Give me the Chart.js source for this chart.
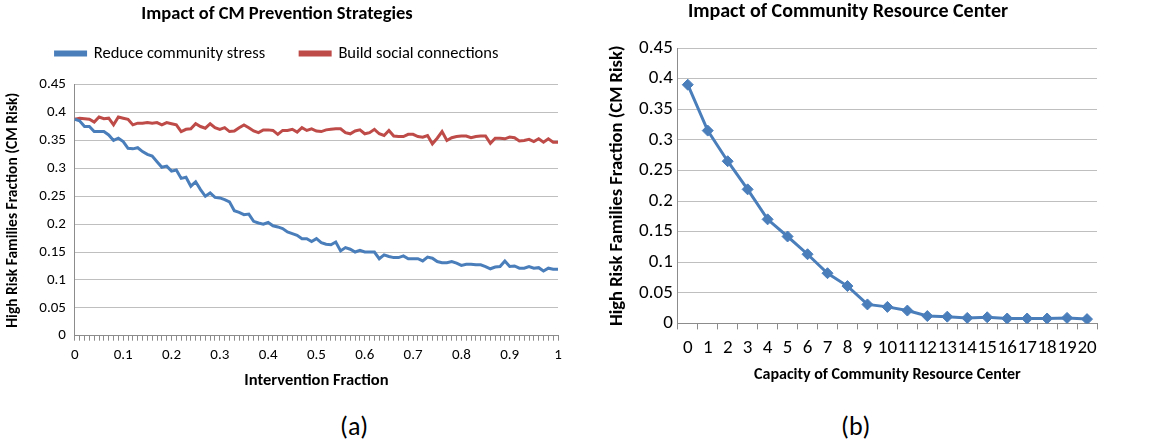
<!DOCTYPE html>
<html>
<head>
<meta charset="utf-8">
<script src="https://cdn.jsdelivr.net/npm/chart.js@4.4.1/dist/chart.umd.min.js"></script>
<style>
  html, body { margin: 0; padding: 0; background: #fff; width: 1159px; height: 445px; overflow: hidden; }
  #wrapA { position: absolute; left: 0; top: 0; width: 580px; height: 391px; }
  #wrapB { position: absolute; left: 580px; top: 0; width: 579px; height: 385px; }
  .cap { position: absolute; top: 410px; font-family: Carlito, Lato, sans-serif; font-size: 26px; color: #000; }
  #capA { left: 340px; }
  #capB { left: 841px; }
</style>
</head>
<body>
<div id="wrapA"><canvas id="chartA" width="580" height="391"></canvas></div>
<div id="wrapB"><canvas id="chartB" width="579" height="385"></canvas></div>
<div class="cap" id="capA">(a)</div>
<div class="cap" id="capB">(b)</div>
<script>
// ---------- Data: chart (a) ----------
const fractionCategories = [
  '0','0.01','0.02','0.03','0.04','0.05','0.06','0.07','0.08','0.09',
  '0.1','0.11','0.12','0.13','0.14','0.15','0.16','0.17','0.18','0.19',
  '0.2','0.21','0.22','0.23','0.24','0.25','0.26','0.27','0.28','0.29',
  '0.3','0.31','0.32','0.33','0.34','0.35','0.36','0.37','0.38','0.39',
  '0.4','0.41','0.42','0.43','0.44','0.45','0.46','0.47','0.48','0.49',
  '0.5','0.51','0.52','0.53','0.54','0.55','0.56','0.57','0.58','0.59',
  '0.6','0.61','0.62','0.63','0.64','0.65','0.66','0.67','0.68','0.69',
  '0.7','0.71','0.72','0.73','0.74','0.75','0.76','0.77','0.78','0.79',
  '0.8','0.81','0.82','0.83','0.84','0.85','0.86','0.87','0.88','0.89',
  '0.9','0.91','0.92','0.93','0.94','0.95','0.96','0.97','0.98','0.99','1'
];
const fractionTickLabels = ['0','0.1','0.2','0.3','0.4','0.5','0.6','0.7','0.8','0.9','1'];
const reduceStress = [
  0.388,0.385,0.375,0.375,0.366,0.366,0.366,0.360,0.350,0.354,
  0.348,0.336,0.335,0.337,0.330,0.325,0.322,0.312,0.302,0.304,
  0.295,0.297,0.282,0.284,0.268,0.276,0.262,0.250,0.256,0.248,
  0.247,0.244,0.240,0.224,0.221,0.217,0.218,0.205,0.202,0.200,
  0.203,0.197,0.195,0.192,0.186,0.183,0.180,0.174,0.174,0.169,
  0.174,0.167,0.164,0.163,0.168,0.152,0.158,0.155,0.150,0.153,
  0.150,0.150,0.150,0.138,0.145,0.142,0.140,0.140,0.143,0.138,
  0.138,0.138,0.134,0.141,0.139,0.133,0.131,0.131,0.133,0.130,
  0.126,0.128,0.128,0.127,0.127,0.124,0.120,0.123,0.124,0.134,
  0.124,0.125,0.121,0.121,0.124,0.121,0.122,0.116,0.121,0.119,0.119
];
const buildConnections = [
  0.388,0.390,0.389,0.388,0.383,0.392,0.389,0.390,0.378,0.392,
  0.390,0.388,0.378,0.381,0.381,0.382,0.381,0.382,0.378,0.382,
  0.380,0.378,0.366,0.370,0.371,0.380,0.375,0.372,0.380,0.373,
  0.370,0.373,0.366,0.367,0.373,0.378,0.373,0.367,0.364,0.369,
  0.369,0.368,0.361,0.368,0.368,0.370,0.365,0.373,0.368,0.371,
  0.367,0.366,0.369,0.370,0.371,0.371,0.364,0.362,0.367,0.369,
  0.362,0.364,0.370,0.362,0.359,0.368,0.358,0.357,0.357,0.361,
  0.361,0.357,0.356,0.359,0.344,0.354,0.366,0.350,0.355,0.357,
  0.358,0.358,0.355,0.357,0.358,0.358,0.345,0.354,0.354,0.353,
  0.356,0.355,0.349,0.350,0.352,0.348,0.353,0.347,0.353,0.347,0.347
];

// ---------- Data: chart (b) ----------
const capacityCategories = ['0','1','2','3','4','5','6','7','8','9','10','11','12','13','14','15','16','17','18','19','20'];
const capacityRisk = [0.390,0.315,0.265,0.219,0.170,0.142,0.113,0.082,0.061,0.031,0.027,0.021,0.012,0.011,0.009,0.010,0.008,0.008,0.008,0.009,0.007];

const yTickValues = [0,0.05,0.1,0.15,0.2,0.25,0.3,0.35,0.4,0.45];

// ---------- Styling ----------
const FONT = 'Carlito, Lato, sans-serif';
const BLUE = '#4a7ebb';
const RED = '#be4b48';
const GRID = '#bfbfbf';
const AXIS = '#8c8c8c';

const yFmt = v => String(+Number(v).toFixed(2));

// extra space between legend and plot area
const legendGap = {
  id: 'legendGap',
  beforeInit(chart) {
    const fit = chart.legend.fit;
    chart.legend.fit = function () { fit.call(this); this.height += 13; };
  }
};

new Chart(document.getElementById('chartA'), {
  type: 'line',
  data: {
    labels: fractionCategories,
    datasets: [
      { label: 'Reduce community stress', data: reduceStress, borderColor: BLUE, backgroundColor: BLUE, borderWidth: 3, pointRadius: 0, tension: 0 },
      { label: 'Build social connections', data: buildConnections, borderColor: RED, backgroundColor: RED, borderWidth: 3, pointRadius: 0, tension: 0 }
    ]
  },
  plugins: [legendGap],
  options: {
    responsive: false,
    animation: false,
    layout: { padding: { left: -4, right: 22, top: 0, bottom: 0 } },
    plugins: {
      title: { display: true, text: 'Impact of CM Prevention Strategies', color: '#000', font: { family: FONT, size: 18.5, weight: 'bold' }, padding: { top: 3, bottom: -15 } },
      legend: { position: 'top', labels: { color: '#000', font: { family: FONT, size: 16.5 }, boxWidth: 30, boxHeight: 3, padding: 35 } },
      tooltip: { enabled: false }
    },
    scales: {
      x: {
        type: 'category',
        offset: false,
        border: { color: AXIS },
        grid: { drawOnChartArea: false, drawTicks: true, tickLength: 5, color: AXIS },
        ticks: { autoSkip: false, maxRotation: 0, color: '#000', font: { family: FONT, size: 15 }, padding: 6,
          callback: function(v) { const l = this.getLabelForValue(v); return fractionTickLabels.includes(l) ? l : ''; } },
        title: { display: true, text: 'Intervention Fraction', color: '#000', font: { family: FONT, size: 16.5, weight: 'bold' }, padding: { top: 0.5, bottom: 0 } }
      },
      y: {
        min: 0, max: 0.45,
        afterBuildTicks: s => { s.ticks = yTickValues.map(v => ({ value: v })); },
        border: { color: AXIS },
        grid: { color: GRID, drawTicks: false },
        ticks: { color: '#000', font: { family: FONT, size: 15 }, padding: 9, callback: yFmt },
        title: { display: true, text: 'High Risk Families Fraction (CM Risk)', color: '#000', font: { family: FONT, size: 15.5, weight: 'bold' }, padding: { top: 7.7, bottom: 8 } }
      }
    }
  }
});

new Chart(document.getElementById('chartB'), {
  type: 'line',
  data: {
    labels: capacityCategories,
    datasets: [
      { label: 'High Risk Families Fraction', data: capacityRisk, borderColor: BLUE, backgroundColor: BLUE, borderWidth: 3, pointStyle: 'rectRot', pointRadius: 5.5, pointBorderWidth: 1, tension: 0 }
    ]
  },
  options: {
    responsive: false,
    animation: false,
    layout: { padding: { left: 19, right: 62, top: 0, bottom: 0 } },
    plugins: {
      title: { display: true, text: 'Impact of Community Resource Center', color: '#000', font: { family: FONT, size: 20, weight: 'bold' }, padding: { top: 0, bottom: 24 } },
      legend: { display: false },
      tooltip: { enabled: false }
    },
    scales: {
      x: {
        type: 'category',
        offset: true,
        border: { color: AXIS },
        grid: { offset: true, drawOnChartArea: false, drawTicks: true, tickLength: 6, color: AXIS },
        ticks: { autoSkip: false, maxRotation: 0, color: '#000', font: { family: FONT, size: 19 }, padding: 7 },
        title: { display: true, text: 'Capacity of Community Resource Center', color: '#000', font: { family: FONT, size: 16, weight: 'bold' }, padding: { top: -0.4, bottom: 0 } }
      },
      y: {
        min: 0, max: 0.45,
        afterBuildTicks: s => { s.ticks = yTickValues.map(v => ({ value: v })); },
        border: { color: AXIS },
        grid: { color: GRID, drawTicks: false },
        ticks: { color: '#000', font: { family: FONT, size: 19 }, padding: 5, callback: yFmt },
        title: { display: true, text: 'High Risk Families Fraction (CM Risk)', color: '#000', font: { family: FONT, size: 18.5, weight: 'bold' }, padding: { top: 6.9, bottom: 6 } }
      }
    }
  }
});
</script>
</body>
</html>
